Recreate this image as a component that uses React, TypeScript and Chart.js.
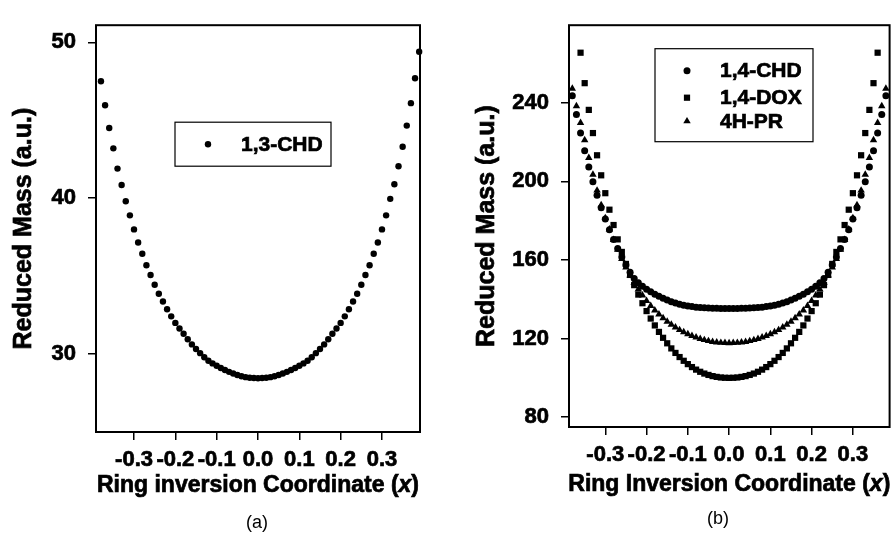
import React, { useEffect, useRef } from "react";
import { Chart, registerables } from "chart.js";

Chart.register(...registerables);

const FONT = "'Liberation Sans', Arial, Helvetica, sans-serif";

// ---------- Panel (a): 1,3-CHD ----------
const xA = [
  -0.38, -0.37, -0.36, -0.35, -0.34, -0.33, -0.32, -0.31, -0.3, -0.29, -0.28, -0.27, -0.26,
  -0.25, -0.24, -0.23, -0.22, -0.21, -0.2, -0.19, -0.18, -0.17, -0.16, -0.15, -0.14, -0.13,
  -0.12, -0.11, -0.1, -0.09, -0.08, -0.07, -0.06, -0.05, -0.04, -0.03, -0.02, -0.01, 0.0,
  0.01, 0.02, 0.03, 0.04, 0.05, 0.06, 0.07, 0.08, 0.09, 0.1, 0.11, 0.12, 0.13, 0.14, 0.15,
  0.16, 0.17, 0.18, 0.19, 0.2, 0.21, 0.22, 0.23, 0.24, 0.25, 0.26, 0.27, 0.28, 0.29, 0.3,
  0.31, 0.32, 0.33, 0.34, 0.35, 0.36, 0.37, 0.38, 0.39,
];
const chd13 = [
  47.5, 45.96, 44.5, 43.2, 41.9, 40.85, 39.8, 38.9, 38.0, 37.16, 36.44, 35.7, 35.07,
  34.45, 33.87, 33.37, 32.88, 32.42, 32.0, 31.64, 31.3, 30.95, 30.62, 30.33, 30.06, 29.8,
  29.57, 29.4, 29.25, 29.11, 28.98, 28.86, 28.75, 28.66, 28.58, 28.52, 28.48, 28.46, 28.45,
  28.46, 28.48, 28.52, 28.58, 28.66, 28.75, 28.86, 28.98, 29.11, 29.25, 29.4, 29.57, 29.8,
  30.06, 30.33, 30.62, 30.95, 31.3, 31.64, 32.0, 32.42, 32.88, 33.37, 33.87, 34.45, 35.07,
  35.7, 36.44, 37.16, 38.0, 38.9, 39.96, 40.9, 42.05, 43.3, 44.66, 46.1, 47.7, 49.4,
];
const yTicksA = [30, 40, 50];

// ---------- Panel (b): 1,4-CHD, 1,4-DOX, 4H-PR ----------
const xB = [
  -0.38, -0.37, -0.36, -0.35, -0.34, -0.33, -0.32, -0.31, -0.3, -0.29, -0.28, -0.27, -0.26,
  -0.25, -0.24, -0.23, -0.22, -0.21, -0.2, -0.19, -0.18, -0.17, -0.16, -0.15, -0.14, -0.13,
  -0.12, -0.11, -0.1, -0.09, -0.08, -0.07, -0.06, -0.05, -0.04, -0.03, -0.02, -0.01, 0.0,
  0.01, 0.02, 0.03, 0.04, 0.05, 0.06, 0.07, 0.08, 0.09, 0.1, 0.11, 0.12, 0.13, 0.14, 0.15,
  0.16, 0.17, 0.18, 0.19, 0.2, 0.21, 0.22, 0.23, 0.24, 0.25, 0.26, 0.27, 0.28, 0.29, 0.3,
  0.31, 0.32, 0.33, 0.34, 0.35, 0.36, 0.37, 0.38,
];
const chd14 = [
  243.6, 234.0, 224.6, 215.6, 207.3, 199.8, 192.9, 186.6, 180.8, 175.4, 170.4, 165.8, 161.5,
  157.5, 153.8, 150.6, 148.4, 146.6, 145.1, 143.8, 142.6, 141.5, 140.5, 139.6, 138.8, 138.1,
  137.5, 137.0, 136.6, 136.3, 136.0, 135.8, 135.7, 135.6, 135.5, 135.4, 135.3, 135.3, 135.3,
  135.3, 135.3, 135.4, 135.5, 135.6, 135.7, 135.8, 136.0, 136.3, 136.6, 137.0, 137.5, 138.1,
  138.8, 139.6, 140.5, 141.5, 142.6, 143.8, 145.1, 146.6, 148.4, 150.6, 153.8, 157.5, 161.5,
  165.8, 170.4, 175.4, 180.8, 186.6, 192.9, 199.8, 207.3, 215.6, 224.6, 234.0, 243.6,
];
const pr4h = [
  247.2, 238.3, 229.8, 221.0, 212.0, 203.5, 195.4, 188.0, 181.4, 175.6, 170.3, 165.3, 160.6,
  156.2, 152.2, 148.5, 145.1, 142.0, 139.2, 136.7, 134.4, 132.3, 130.4, 128.7, 127.1, 125.7,
  124.4, 123.3, 122.3, 121.4, 120.6, 119.9, 119.3, 118.8, 118.4, 118.1, 117.9, 117.8, 117.7,
  117.8, 117.9, 118.1, 118.4, 118.8, 119.3, 119.9, 120.6, 121.4, 122.3, 123.3, 124.4, 125.7,
  127.1, 128.7, 130.4, 132.3, 134.4, 136.7, 139.2, 142.0, 145.1, 148.5, 152.2, 156.2, 160.6,
  165.3, 170.3, 175.6, 181.4, 188.0, 195.4, 203.5, 212.0, 221.0, 229.8, 238.3, 247.2,
];
const xDox = [
  -0.36, -0.35, -0.34, -0.33, -0.32, -0.31, -0.3, -0.29, -0.28, -0.27, -0.26, -0.25, -0.24,
  -0.23, -0.22, -0.21, -0.2, -0.19, -0.18, -0.17, -0.16, -0.15, -0.14, -0.13, -0.12, -0.11,
  -0.1, -0.09, -0.08, -0.07, -0.06, -0.05, -0.04, -0.03, -0.02, -0.01, 0.0, 0.01, 0.02, 0.03,
  0.04, 0.05, 0.06, 0.07, 0.08, 0.09, 0.1, 0.11, 0.12, 0.13, 0.14, 0.15, 0.16, 0.17, 0.18,
  0.19, 0.2, 0.21, 0.22, 0.23, 0.24, 0.25, 0.26, 0.27, 0.28, 0.29, 0.3, 0.31, 0.32, 0.33,
  0.34, 0.35, 0.36,
];
const dox14 = [
  265.5, 250.0, 236.4, 224.6, 213.3, 203.1, 194.0, 185.6, 177.8, 170.5, 164.1, 158.0, 152.4,
  147.2, 142.4, 138.0, 134.0, 130.2, 126.7, 123.4, 120.4, 117.6, 115.0, 112.7, 110.6, 108.7,
  107.0, 105.5, 104.2, 103.1, 102.2, 101.5, 100.9, 100.5, 100.2, 100.05, 100.0, 100.05, 100.2,
  100.5, 100.9, 101.5, 102.2, 103.1, 104.2, 105.5, 107.0, 108.7, 110.6, 112.7, 115.0, 117.6,
  120.4, 123.4, 126.7, 130.2, 134.0, 138.0, 142.4, 147.2, 152.4, 158.0, 164.1, 170.5, 177.8,
  185.6, 194.0, 203.1, 213.3, 224.6, 236.4, 250.0, 265.5,
];
const yTicksB = [80, 120, 160, 200, 240];

const xTicks = [-0.3, -0.2, -0.1, 0.0, 0.1, 0.2, 0.3];

type LegendItem = { label: string; style: string; r: number };
type PanelCfg = {
  xTitle: string;
  yTitle: string;
  yTitleX: number;
  caption: string;
  captionX: number;
  captionY: number;
  xTitleY: number;
  legend: {
    dx: number;
    dy: number;
    w: number;
    h: number;
    markerX: number;
    textX: number;
    rows: number[];
    items: LegendItem[];
  };
};

const STROKE = 0.7;

function boldText(ctx: CanvasRenderingContext2D, t: string, x: number, y: number) {
  ctx.fillText(t, x, y);
  ctx.strokeText(t, x, y);
}

function drawMarker(ctx: CanvasRenderingContext2D, style: string, x: number, y: number, r: number) {
  ctx.beginPath();
  if (style === "rect") {
    const s = Math.SQRT1_2 * r;
    ctx.rect(x - s, y - s, 2 * s, 2 * s);
  } else if (style === "triangle") {
    ctx.moveTo(x, y - r);
    ctx.lineTo(x + 0.866 * r, y + 0.5 * r);
    ctx.lineTo(x - 0.866 * r, y + 0.5 * r);
    ctx.closePath();
  } else {
    ctx.arc(x, y, r, 0, Math.PI * 2);
  }
  ctx.fill();
}

function makePlugin(cfg: PanelCfg) {
  return {
    id: "panelDecor",
    afterDatasetsDraw(chart: any) {
      const ctx: CanvasRenderingContext2D = chart.ctx;
      const ca = chart.chartArea;
      ctx.save();
      // frame
      ctx.strokeStyle = "#000";
      ctx.lineWidth = 2;
      ctx.strokeRect(ca.left, ca.top, ca.right - ca.left, ca.bottom - ca.top);

      // legend
      const L = cfg.legend;
      const bx = ca.left + L.dx;
      const by = ca.top + L.dy;
      ctx.fillStyle = "#fff";
      ctx.fillRect(bx, by, L.w, L.h);
      ctx.lineWidth = 1.2;
      ctx.strokeRect(bx, by, L.w, L.h);
      ctx.fillStyle = "#000";
      ctx.lineWidth = STROKE;
      ctx.font = `bold 21px ${FONT}`;
      ctx.textBaseline = "middle";
      ctx.textAlign = "left";
      L.items.forEach((it, i) => {
        const ry = by + L.rows[i];
        drawMarker(ctx, it.style, bx + L.markerX, ry, it.r);
        boldText(ctx, it.label, bx + L.textX, ry + 1);
      });

      // x-axis title with italic x
      const parts = [
        { t: cfg.xTitle, f: `bold 23px ${FONT}` },
        { t: "x", f: `italic bold 23px ${FONT}` },
        { t: ")", f: `bold 23px ${FONT}` },
      ];
      let total = 0;
      parts.forEach((p) => {
        ctx.font = p.f;
        total += ctx.measureText(p.t).width;
      });
      let cx = (ca.left + ca.right) / 2 - total / 2;
      ctx.textBaseline = "alphabetic";
      parts.forEach((p) => {
        ctx.font = p.f;
        boldText(ctx, p.t, cx, cfg.xTitleY);
        cx += ctx.measureText(p.t).width;
      });

      // y-axis title (rotated)
      ctx.save();
      ctx.translate(cfg.yTitleX, (ca.top + ca.bottom) / 2);
      ctx.rotate(-Math.PI / 2);
      ctx.font = `bold 25px ${FONT}`;
      ctx.textAlign = "center";
      ctx.textBaseline = "middle";
      boldText(ctx, cfg.yTitle, 0, 0);
      ctx.restore();

      // caption
      ctx.font = `18px ${FONT}`;
      ctx.textAlign = "center";
      ctx.textBaseline = "alphabetic";
      ctx.fillText(cfg.caption, cfg.captionX, cfg.captionY);
      ctx.restore();
    },
  };
}

function buildChart(
  canvas: HTMLCanvasElement,
  datasets: any[],
  opts: {
    xMin: number;
    xMax: number;
    yMin: number;
    yMax: number;
    yTicks: number[];
    yAxisWidth: number;
    xAxisHeight: number;
    padRight: number;
    padTop: number;
  },
  cfg: PanelCfg
) {
  const tickFont = { family: FONT, size: 22, weight: "bold" };
  return new Chart(canvas, {
    type: "scatter",
    data: { datasets },
    options: {
      animation: false,
      responsive: false,
      devicePixelRatio: 1,
      layout: { padding: { left: 0, right: opts.padRight, top: opts.padTop, bottom: 0 } },
      plugins: { legend: { display: false }, tooltip: { enabled: false } },
      scales: {
        x: {
          type: "linear",
          min: opts.xMin,
          max: opts.xMax,
          afterBuildTicks: (s: any) => {
            s.ticks = xTicks.map((v) => ({ value: v }));
          },
          afterFit: (s: any) => {
            s.height = opts.xAxisHeight;
          },
          border: { display: false },
          grid: {
            display: true,
            drawOnChartArea: false,
            drawTicks: true,
            tickLength: 8,
            color: "#000",
            lineWidth: 1.5,
          },
          ticks: {
            autoSkip: false,
            maxRotation: 0,
            minRotation: 0,
            padding: 7,
            color: "#000",
            textStrokeColor: "#000",
            textStrokeWidth: STROKE,
            font: tickFont,
            callback: (v: any) => Number(v).toFixed(1),
          },
        },
        y: {
          type: "linear",
          min: opts.yMin,
          max: opts.yMax,
          afterBuildTicks: (s: any) => {
            s.ticks = opts.yTicks.map((v) => ({ value: v }));
          },
          afterFit: (s: any) => {
            s.width = opts.yAxisWidth;
          },
          border: { display: false },
          grid: {
            display: true,
            drawOnChartArea: false,
            drawTicks: true,
            tickLength: 8,
            color: "#000",
            lineWidth: 1.5,
          },
          ticks: {
            padding: 12,
            color: "#000",
            textStrokeColor: "#000",
            textStrokeWidth: STROKE,
            font: tickFont,
            callback: (v: any) => String(v),
          },
          title: { display: false },
        },
      },
    } as any,
    plugins: [makePlugin(cfg)],
  });
}

export default function App() {
  const leftRef = useRef<HTMLCanvasElement>(null);
  const rightRef = useRef<HTMLCanvasElement>(null);

  useEffect(() => {
    const dsA = [
      {
        label: "1,3-CHD",
        data: xA.map((x, i) => ({ x, y: chd13[i] })),
        pointStyle: "circle",
        pointRadius: 3.2,
        pointBorderWidth: 0,
        backgroundColor: "#000",
        borderColor: "#000",
        showLine: false,
        clip: false,
      },
    ];
    const dsB = [
      {
        label: "1,4-CHD",
        data: xB.map((x, i) => ({ x, y: chd14[i] })),
        pointStyle: "circle",
        pointRadius: 3.5,
        pointBorderWidth: 0,
        backgroundColor: "#000",
        borderColor: "#000",
        showLine: false,
        clip: false,
      },
      {
        label: "1,4-DOX",
        data: xDox.map((x, i) => ({ x, y: dox14[i] })),
        pointStyle: "rect",
        pointRadius: 4.4,
        pointBorderWidth: 0,
        backgroundColor: "#000",
        borderColor: "#000",
        showLine: false,
        clip: false,
      },
      {
        label: "4H-PR",
        data: xB.map((x, i) => ({ x, y: pr4h[i] })),
        pointStyle: "triangle",
        pointRadius: 4.3,
        pointBorderWidth: 0,
        backgroundColor: "#000",
        borderColor: "#000",
        showLine: false,
        clip: false,
      },
    ];

    const cA = buildChart(
      leftRef.current!,
      dsA,
      {
        xMin: -0.392,
        xMax: 0.392,
        yMin: 25,
        yMax: 51.1,
        yTicks: yTicksA,
        yAxisWidth: 96,
        xAxisHeight: 106,
        padRight: 27,
        padTop: 11,
      },
      {
        xTitle: "Ring inversion Coordinate (",
        yTitle: "Reduced Mass (a.u.)",
        yTitleX: 24,
        caption: "(a)",
        captionX: 257,
        captionY: 528,
        xTitleY: 492,
        legend: {
          dx: 79,
          dy: 97,
          w: 156,
          h: 44,
          markerX: 33,
          textX: 66,
          rows: [22],
          items: [{ label: "1,3-CHD", style: "circle", r: 3.2 }],
        },
      }
    );
    const cB = buildChart(
      rightRef.current!,
      dsB,
      {
        xMin: -0.388,
        xMax: 0.389,
        yMin: 75,
        yMax: 279.5,
        yTicks: yTicksB,
        yAxisWidth: 122,
        xAxisHeight: 111,
        padRight: 2,
        padTop: 7,
      },
      {
        xTitle: "Ring Inversion Coordinate (",
        yTitle: "Reduced Mass (a.u.)",
        yTitleX: 40,
        caption: "(b)",
        captionX: 271,
        captionY: 524,
        xTitleY: 491,
        legend: {
          dx: 86,
          dy: 23.5,
          w: 158,
          h: 93,
          markerX: 32,
          textX: 65,
          rows: [22, 49, 72.5],
          items: [
            { label: "1,4-CHD", style: "circle", r: 3.5 },
            { label: "1,4-DOX", style: "rect", r: 4.4 },
            { label: "4H-PR", style: "triangle", r: 4.3 },
          ],
        },
      }
    );
    return () => {
      cA.destroy();
      cB.destroy();
    };
  }, []);

  return (
    <div
      style={{
        position: "absolute",
        left: 0,
        top: 0,
        width: 894,
        height: 538,
        background: "#fff",
        overflow: "hidden",
      }}
    >
      <canvas
        ref={leftRef}
        width={447}
        height={538}
        style={{ position: "absolute", left: 0, top: 0, width: 447, height: 538 }}
      />
      <canvas
        ref={rightRef}
        width={447}
        height={538}
        style={{ position: "absolute", left: 447, top: 0, width: 447, height: 538 }}
      />
    </div>
  );
}
